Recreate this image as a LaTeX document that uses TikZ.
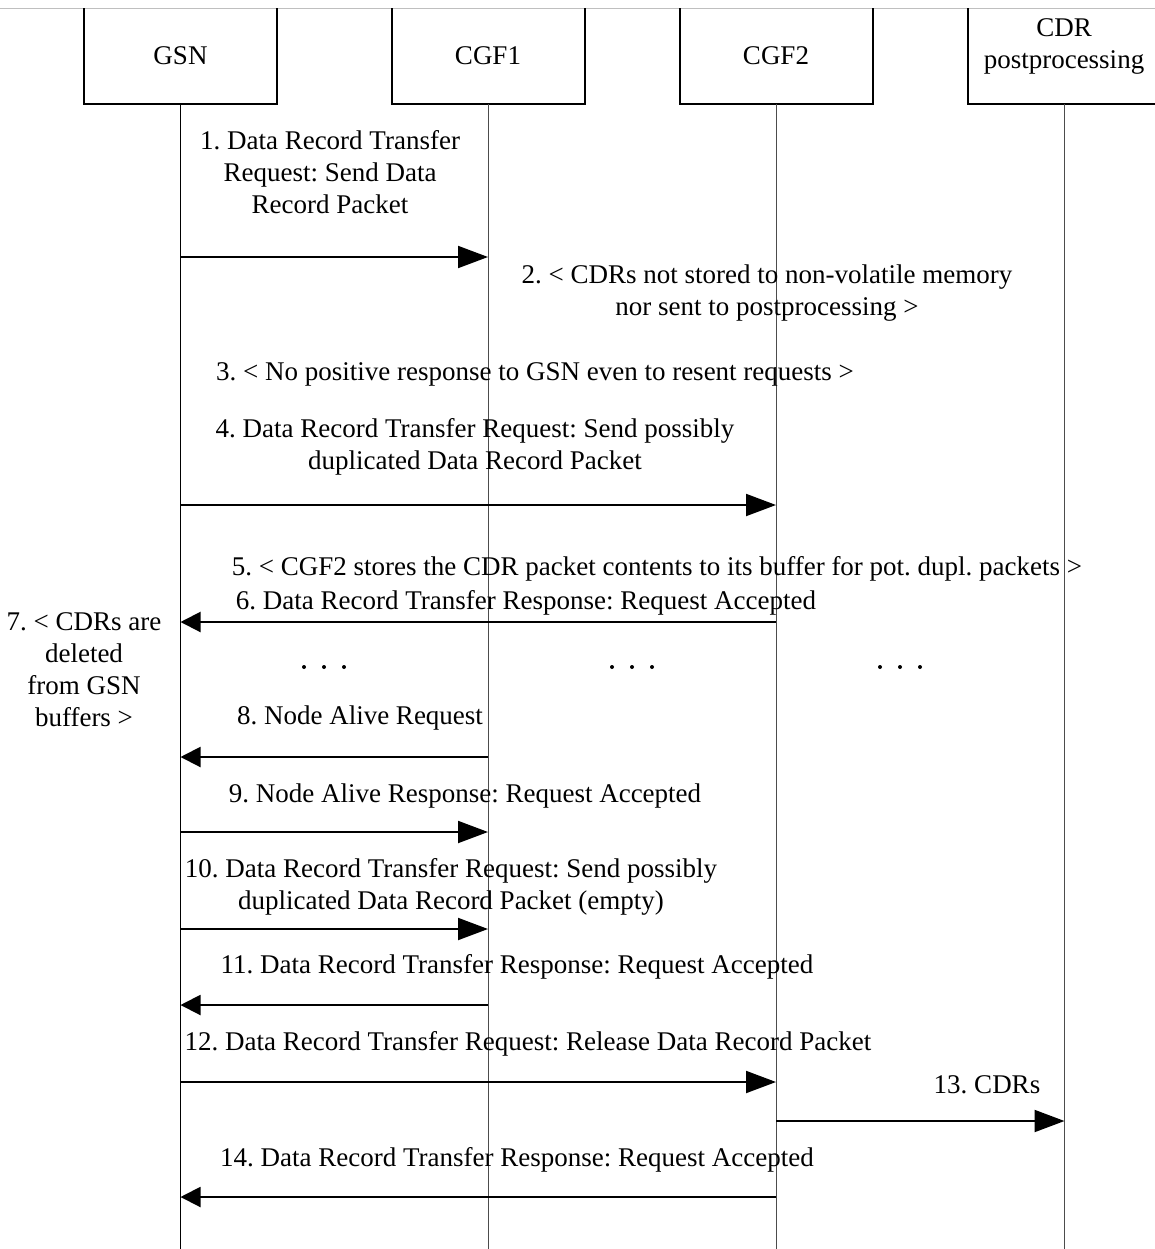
\documentclass[tikz,border=0pt]{standalone}
\usepackage{fontspec}
\setmainfont{Liberation Serif}
\usetikzlibrary{arrows.meta}
\frenchspacing

\tikzset{
    headbox/.style={minimum width=96.5pt, minimum height=48pt, inner sep=0pt, outer sep=0pt},
    boxline/.style={line width=1pt},
    lifeline/.style={line width=0.5pt, black!70},
    msg/.style={align=center, inner sep=0pt},
    toright/.style={line width=1pt, -{Triangle[length=15pt, width=11pt]}},
    toleft/.style={line width=1pt, -{Triangle[length=10pt, width=10pt]}},
}

\begin{document}
\begin{tikzpicture}[x=0.5pt, y=-0.5pt, font=\fontsize{13.5}{16}\selectfont]
        \useasboundingbox (0,0) rectangle (1155,1249);
        \clip (0,0) rectangle (1155,1249);
        \draw[black!25, line width=0.5pt] (0,8) -- (1155,8);
        % heads
        \node[headbox] (gsn) at (180.5,56) {GSN};
        \node[headbox] (cgf1) at (488,56) {CGF1};
        \node[headbox] (cgf2) at (776,56) {CGF2};
        \node[headbox] (cdr) at (1064.5,56) {};
        \node[msg] (cdrtext) at (1064,46) {CDR\\postprocessing};
        \foreach \n in {gsn, cgf1, cgf2, cdr} {
            \draw[boxline] (\n.north west) |- (\n.south east) -- (\n.north east);
        }
        \draw[lifeline, black] (gsn.south) -- (gsn.south |- 0,1249);
        \foreach \n in {cgf1, cgf2, cdr} {
            \draw[lifeline] (\n.south) -- (\n.south |- 0,1249);
        }
        % messages
        \node[msg] (m1) at (330,172) {1. Data Record Transfer\\Request: Send Data\\Record Packet};
        \draw[toright] (gsn.south |- 0,257) -- (cgf1.south |- 0,257);
        \node[msg] (m2) at (767,293) {2. < CDRs not stored to non-volatile memory\\nor sent to postprocessing >};
        \node[msg] (m3) at (535,374) {3. < No positive response to GSN even to resent requests >};
        \node[msg] (m4) at (475,447) {4. Data Record Transfer Request: Send possibly\\duplicated Data Record Packet};
        \draw[toright] (gsn.south |- 0,505) -- (cgf2.south |- 0,505);
        \node[msg] (m5) at (657,569) {5. < CGF2 stores the CDR packet contents to its buffer for pot. dupl. packets >};
        \node[msg] (m6) at (526,603) {6. Data Record Transfer Response: Request Accepted};
        \draw[toleft] (cgf2.south |- 0,622) -- (gsn.south |- 0,622);
        \node[msg] (m7) at (84,670) {7. < CDRs are\\deleted\\from GSN\\buffers >};
        \foreach \cx in {324, 632, 900} {
            \foreach \d in {-20, 0, 20} {
                \fill (\cx+\d,667) circle (1pt);
            }
        }
        \node[msg] (m8) at (360,718) {8. Node Alive Request};
        \draw[toleft] (cgf1.south |- 0,757) -- (gsn.south |- 0,757);
        \node[msg] (m9) at (465,796) {9. Node Alive Response: Request Accepted};
        \draw[toright] (gsn.south |- 0,832) -- (cgf1.south |- 0,832);
        \node[msg] (m10) at (451,887) {10. Data Record Transfer Request: Send possibly\\duplicated Data Record Packet (empty)};
        \draw[toright] (gsn.south |- 0,929) -- (cgf1.south |- 0,929);
        \node[msg] (m11) at (517,967) {11. Data Record Transfer Response: Request Accepted};
        \draw[toleft] (cgf1.south |- 0,1005) -- (gsn.south |- 0,1005);
        \node[msg] (m12) at (528,1044) {12. Data Record Transfer Request: Release Data Record Packet};
        \draw[toright] (gsn.south |- 0,1082) -- (cgf2.south |- 0,1082);
        \node[msg] (m13) at (987,1085) {13. CDRs};
        \draw[toright] (cgf2.south |- 0,1121) -- (cdr.south |- 0,1121);
        \node[msg] (m14) at (517,1160) {14. Data Record Transfer Response: Request Accepted};
        \draw[toleft] (cgf2.south |- 0,1197) -- (gsn.south |- 0,1197);
\end{tikzpicture}
\end{document}
